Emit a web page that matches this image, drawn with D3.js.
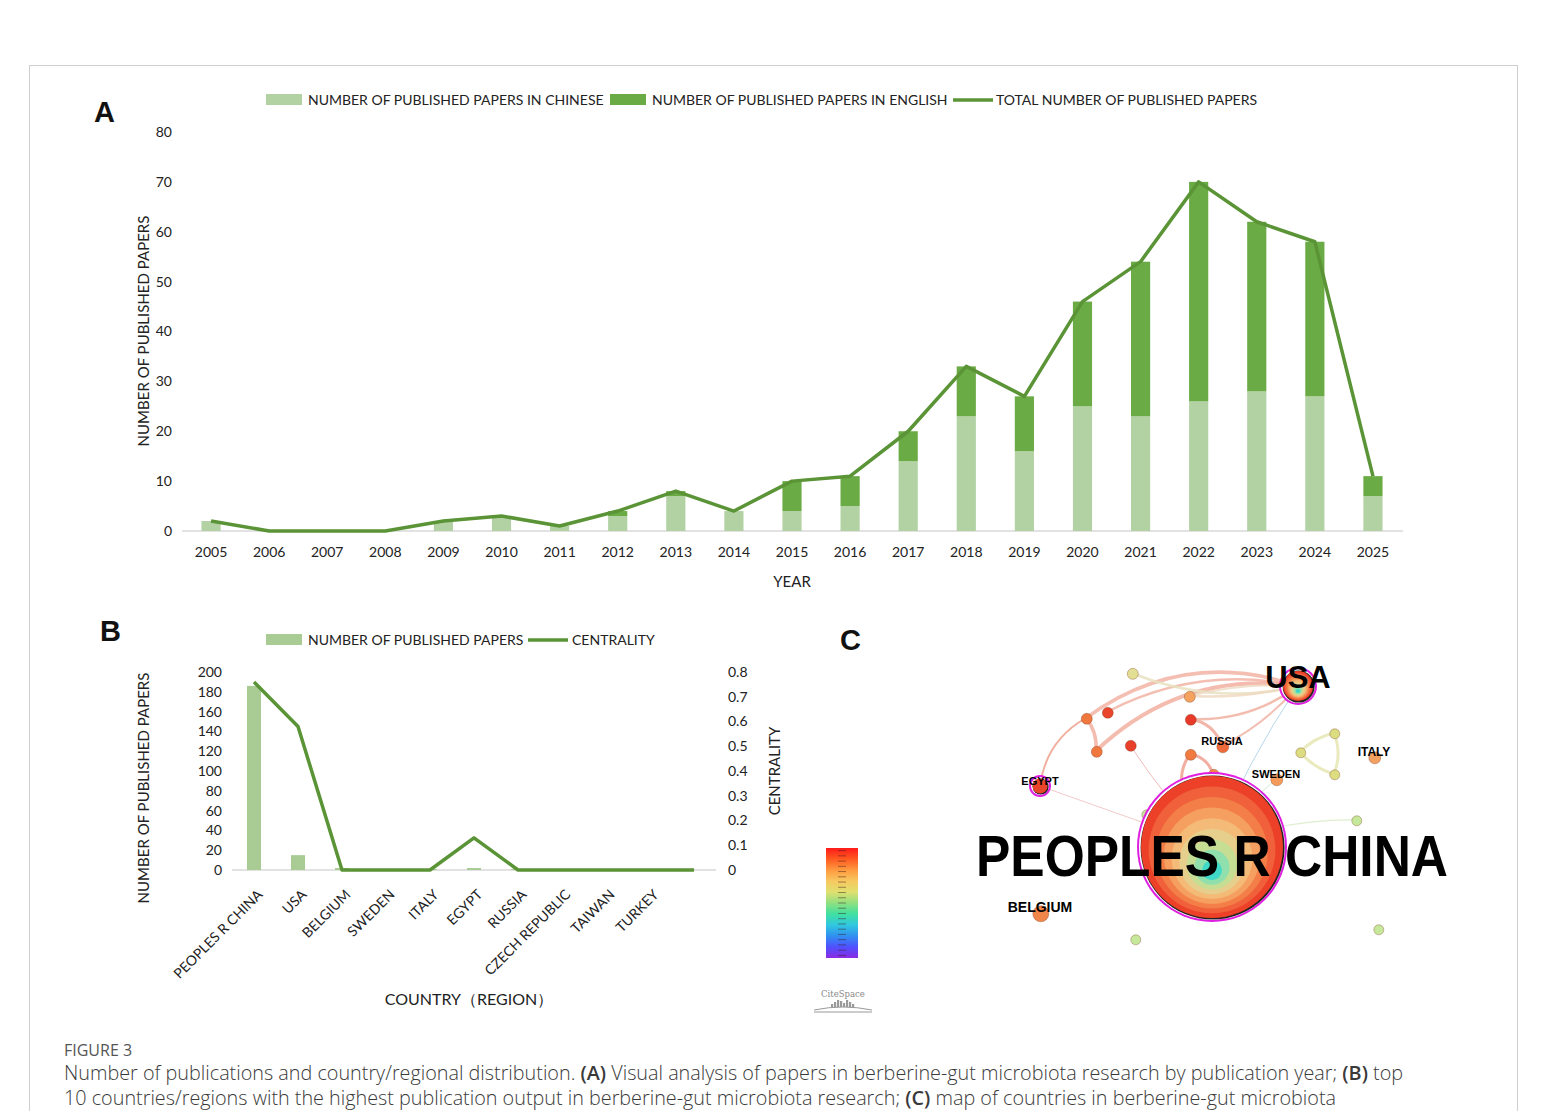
<!DOCTYPE html>
<html>
<head>
<meta charset="utf-8">
<script src="https://cdn.jsdelivr.net/npm/d3@7"></script>
<style>
  body { margin: 0; background: #fff; }
  svg { display: block; }
  .tick text { font-family: Lato, sans-serif; font-size: 14px; fill: #222; }
</style>
</head>
<body>
<svg id="fig" width="1546" height="1111"></svg>
<script>
// ---- panel A data
const years = ["2005","2006","2007","2008","2009","2010","2011","2012","2013","2014","2015",
               "2016","2017","2018","2019","2020","2021","2022","2023","2024","2025"];
const chinesePapers = [2,0,0,0,2,3,1,3,7,4,4,5,14,23,16,25,23,26,28,27,7];
const englishPapers = [0,0,0,0,0,0,0,1,1,0,6,6,6,10,11,21,31,44,34,31,4];
const totalPapers   = [2,0,0,0,2,3,1,4,8,4,10,11,20,33,27,46,54,70,62,58,11];
const yTicksA = [0,10,20,30,40,50,60,70,80];

// ---- panel B data
const countries = ["PEOPLES R CHINA","USA","BELGIUM","SWEDEN","ITALY","EGYPT","RUSSIA",
                   "CZECH REPUBLIC","TAIWAN","TURKEY",""];
const countryPapers = [186,15,2,1,1,2,1,1,1,1,0];
const centrality    = [0.76,0.58,0,0,0,0.13,0,0,0,0,0];
const yTicksB  = [0,20,40,60,80,100,120,140,160,180,200];
const yTicksB2 = [0,0.1,0.2,0.3,0.4,0.5,0.6,0.7,0.8];

// ---- panel C data (layout space 0-500 x 0-290)
const netNodes = [
  {id:"PEOPLES R CHINA", x:252, y:187, r:72, fill:"#ee4a2c", ring:true, label:58},
  {id:"USA",     x:338, y:26,  r:16, fill:"#f08a4a", ring:true, label:31},
  {id:"EGYPT",   x:80,  y:126, r:8,  fill:"#e9452a", ring:true, label:11},
  {id:"BELGIUM", x:80,  y:253, r:8,  fill:"#f0864a", label:14},
  {id:"RUSSIA",  x:262, y:86,  r:6,  fill:"#ee6a3a", label:11},
  {id:"SWEDEN",  x:316, y:119, r:6,  fill:"#f49a5a", label:11},
  {id:"ITALY",   x:414, y:97,  r:6,  fill:"#f4a060", label:12},
  {id:"n1",  x:172, y:13,  r:5.5, fill:"#e2df94"},
  {id:"n2",  x:229, y:36,  r:5.5, fill:"#f4a25e"},
  {id:"n3",  x:147, y:52,  r:5.5, fill:"#e8452c"},
  {id:"n4",  x:126, y:58,  r:5.5, fill:"#f0773e"},
  {id:"n5",  x:230, y:59,  r:5.5, fill:"#e83a2a"},
  {id:"n6",  x:136, y:91,  r:5.5, fill:"#f0783e"},
  {id:"n7",  x:170, y:85,  r:5.5, fill:"#e8402a"},
  {id:"n8",  x:230, y:94,  r:5.5, fill:"#f07a40"},
  {id:"n9",  x:253, y:114, r:5.5, fill:"#f2844a"},
  {id:"n10", x:224, y:134, r:5.5, fill:"#f0783e"},
  {id:"n11", x:186, y:154, r:5,   fill:"#c6e89a"},
  {id:"n12", x:396, y:160, r:5,   fill:"#c6e89a"},
  {id:"n13", x:175, y:279, r:5,   fill:"#c6e89a"},
  {id:"n14", x:418, y:269, r:5,   fill:"#c6e89a"},
  {id:"n15", x:374, y:73,  r:5,   fill:"#dcdc80"},
  {id:"n16", x:340, y:92,  r:5,   fill:"#dcdc80"},
  {id:"n17", x:374, y:114, r:5,   fill:"#dcdc80"}
];
const netLinks = [
  {s:"EGYPT", t:"n4",  w:2,   c:"#eea08c", bend:-0.25},
  {s:"n4",  t:"USA",   w:3.5, c:"#f2b4a4", bend:-0.26},
  {s:"n3",  t:"USA",   w:2.5, c:"#f2b4a4", bend:-0.18},
  {s:"n6",  t:"USA",   w:4,   c:"#f2b0a0", bend:-0.24},
  {s:"n6",  t:"n4",    w:3.5, c:"#f2b0a0", bend:0.2},
  {s:"n1",  t:"USA",   w:2.5, c:"#e8e2c0", bend:0.16},
  {s:"n2",  t:"USA",   w:2.5, c:"#f0d8c0", bend:0.07},
  {s:"n2",  t:"USA",   w:2,   c:"#ecdcc4", bend:-0.08},
  {s:"n5",  t:"RUSSIA",w:3,   c:"#f0a898", bend:-0.3},
  {s:"n5",  t:"USA",   w:2.5, c:"#f0b0a0", bend:0.18},
  {s:"RUSSIA", t:"USA", w:2,  c:"#f0b4a4", bend:0.1},
  {s:"n8",  t:"n9",    w:3,   c:"#f0a090", bend:-0.3},
  {s:"n9",  t:"n10",   w:3,   c:"#f0a090", bend:-0.3},
  {s:"n8",  t:"n10",   w:3,   c:"#f0a090", bend:0.25},
  {s:"n10", t:"PEOPLES R CHINA", w:1, c:"#f0b8a8", bend:0},
  {s:"n9",  t:"PEOPLES R CHINA", w:1, c:"#d8e8c8", bend:0},
  {s:"USA", t:"PEOPLES R CHINA", w:1, c:"#a8d0e8", bend:0.05},
  {s:"SWEDEN", t:"PEOPLES R CHINA", w:1, c:"#c8e8c8", bend:0.05},
  {s:"n12", t:"PEOPLES R CHINA", w:1.2, c:"#d8ecc8", bend:0.1},
  {s:"n11", t:"PEOPLES R CHINA", w:1, c:"#d8ecc8", bend:0},
  {s:"EGYPT", t:"PEOPLES R CHINA", w:1, c:"#f0c0c0", bend:0},
  {s:"n7",  t:"PEOPLES R CHINA", w:1, c:"#f0b0b0", bend:0.05},
  {s:"n15", t:"n16",   w:3,   c:"#e6e6b4", bend:0.15},
  {s:"n16", t:"n17",   w:3,   c:"#e6e6b4", bend:0.15},
  {s:"n15", t:"n17",   w:3,   c:"#e6e6b4", bend:-0.2}
];
const ringColors = ["#ec4128","#f0603a","#f37e48","#f5a060","#f4ba78","#e6cf8c","#c6dd94","#8fe0ac","#40d8c8"];
const timeColors = ["#ff1a1a","#ff5a20","#ff9a40","#f7c860","#e0e070","#90e080","#40e0a0","#30c8e0","#3090f0","#5050ff","#8a2be2"];

const FONT = "Lato, sans-serif";
const svg = d3.select("#fig");

// frame
svg.append("rect")
  .attr("x", 29.5).attr("y", 65.5)
  .attr("width", 1488).attr("height", 1100)
  .attr("fill", "none").attr("stroke", "#cfcfcf")

function panelLetter(t, x, y) {
  svg.append("text").attr("x", x).attr("y", y).text(t)
    .style("font-family", "'Liberation Sans', Arial, sans-serif")
    .style("font-size", "29px").style("font-weight", "bold").style("fill", "#111")
}
panelLetter("A", 94, 122)
panelLetter("B", 100, 641)
panelLetter("C", 840, 650)

// ================= PANEL A =================
let lightGreen = "#b3d2a4", darkGreen = "#6aab45", lineGreen = "#5a9436";

let xA = d3.scaleBand()
  .domain(years)
  .range([182, 1402])
  .paddingInner(0.67)
  .paddingOuter(0.335);

let yA = d3.scaleLinear().domain([0, 80]).range([531, 132]);

let gA = svg.append("g")

gA.append("line")
  .attr("x1", 182).attr("x2", 1403)
  .attr("y1", yA(0)).attr("y2", yA(0))
  .style("stroke", "#d9d9d9").style("stroke-width", 1.5)

gA.selectAll(".barCn")
  .data(years)
  .join("rect")
  .attr("x", d => xA(d))
  .attr("width", xA.bandwidth())
  .attr("y", (d, i) => yA(chinesePapers[i]))
  .attr("height", (d, i) => yA(0) - yA(chinesePapers[i]))
  .style("fill", lightGreen)

gA.selectAll(".barEn")
  .data(years)
  .join("rect")
  .attr("x", d => xA(d))
  .attr("width", xA.bandwidth())
  .attr("y", (d, i) => yA(chinesePapers[i] + englishPapers[i]))
  .attr("height", (d, i) => yA(chinesePapers[i]) - yA(chinesePapers[i] + englishPapers[i]))
  .style("fill", darkGreen)

let lineA = d3.line()
  .x((d, i) => xA(years[i]) + xA.bandwidth() / 2)
  .y(d => yA(d))

gA.append("path")
  .datum(totalPapers)
  .attr("d", lineA)
  .style("fill", "none")
  .style("stroke", lineGreen)
  .style("stroke-width", 3.5)
  .style("stroke-linejoin", "round")

gA.append("g")
  .attr("transform", "translate(180,0)")
  .call(d3.axisLeft(yA).tickValues(yTicksA).tickSize(0).tickPadding(8))
  .call(g => g.select(".domain").remove())

gA.append("g")
  .attr("transform", `translate(0,${yA(0)})`)
  .call(d3.axisBottom(xA).tickSize(0).tickPadding(16))
  .call(g => g.select(".domain").remove())

svg.append("text")
  .attr("transform", "translate(149,331) rotate(-90)")
  .attr("text-anchor", "middle")
  .style("font-family", FONT).style("font-size", "15px").style("fill", "#222")
  .text("NUMBER OF PUBLISHED PAPERS")

svg.append("text")
  .attr("x", 792).attr("y", 587)
  .attr("text-anchor", "middle")
  .style("font-family", FONT).style("font-size", "15px").style("fill", "#222")
  .text("YEAR")

// legend A
let legA = svg.append("g").style("font-family", FONT).style("font-size", "14px").style("fill", "#222")
legA.append("rect").attr("x", 266).attr("y", 94).attr("width", 36).attr("height", 11).style("fill", lightGreen)
legA.append("text").attr("x", 308).attr("y", 105).text("NUMBER OF PUBLISHED PAPERS IN CHINESE")
legA.append("rect").attr("x", 610).attr("y", 94).attr("width", 36).attr("height", 11).style("fill", darkGreen)
legA.append("text").attr("x", 652).attr("y", 105).text("NUMBER OF PUBLISHED PAPERS IN ENGLISH")
legA.append("line").attr("x1", 953).attr("x2", 993).attr("y1", 100).attr("y2", 100)
  .style("stroke", lineGreen).style("stroke-width", 3.5)
legA.append("text").attr("x", 996).attr("y", 105).text("TOTAL NUMBER OF PUBLISHED PAPERS")

// ================= PANEL B =================
let xB = d3.scaleBand().domain(countries).range([232, 716]);
let yB = d3.scaleLinear().domain([0, 200]).range([870, 672]);
let yB2 = d3.scaleLinear().domain([0, 0.8]).range([870, 672]);
let barW = 14;

let gB = svg.append("g")

gB.append("line")
  .attr("x1", 232).attr("x2", 716)
  .attr("y1", yB(0)).attr("y2", yB(0))
  .style("stroke", "#d9d9d9").style("stroke-width", 1.5)

gB.selectAll(".barB")
  .data(countries)
  .join("rect")
  .attr("x", d => xB(d) + xB.bandwidth() / 2 - barW / 2)
  .attr("width", barW)
  .attr("y", (d, i) => yB(countryPapers[i]))
  .attr("height", (d, i) => yB(0) - yB(countryPapers[i]))
  .style("fill", "#a9cc95")

gB.append("path")
  .datum(centrality)
  .attr("d", d3.line()
    .x((d, i) => xB(countries[i]) + xB.bandwidth() / 2)
    .y(d => yB2(d)))
  .style("fill", "none")
  .style("stroke", lineGreen)
  .style("stroke-width", 3.5)
  .style("stroke-linejoin", "round")

gB.append("g")
  .attr("transform", "translate(228,0)")
  .call(d3.axisLeft(yB).tickValues(yTicksB).tickSize(0).tickPadding(6))
  .call(g => g.select(".domain").remove())

gB.append("g")
  .attr("transform", "translate(722,0)")
  .call(d3.axisRight(yB2).tickValues(yTicksB2).tickSize(0).tickPadding(6)
    .tickFormat(d => d === 0 ? "0" : d3.format(".1f")(d)))
  .call(g => g.select(".domain").remove())

gB.selectAll(".xlab")
  .data(countries)
  .join("text")
  .attr("transform", d => `translate(${xB(d) + xB.bandwidth() / 2 + 6},${892}) rotate(-45)`)
  .attr("text-anchor", "end")
  .attr("dy", "0.35em")
  .style("font-family", FONT).style("font-size", "14px").style("fill", "#222")
  .text(d => d)

svg.append("text")
  .attr("transform", "translate(149,788) rotate(-90)")
  .attr("text-anchor", "middle")
  .style("font-family", FONT).style("font-size", "15px").style("fill", "#222")
  .text("NUMBER OF PUBLISHED PAPERS")

svg.append("text")
  .attr("transform", "translate(780,771) rotate(-90)")
  .attr("text-anchor", "middle")
  .style("font-family", FONT).style("font-size", "15px").style("fill", "#222")
  .text("CENTRALITY")

svg.append("text")
  .attr("x", 469).attr("y", 1005)
  .attr("text-anchor", "middle")
  .style("font-family", FONT).style("font-size", "16px").style("fill", "#222")
  .text("COUNTRY（REGION）")

let legB = svg.append("g").style("font-family", FONT).style("font-size", "14px").style("fill", "#222")
legB.append("rect").attr("x", 266).attr("y", 634).attr("width", 36).attr("height", 11).style("fill", "#a9cc95")
legB.append("text").attr("x", 308).attr("y", 645).text("NUMBER OF PUBLISHED PAPERS")
legB.append("line").attr("x1", 528).attr("x2", 568).attr("y1", 640).attr("y2", 640)
  .style("stroke", lineGreen).style("stroke-width", 3.5)
legB.append("text").attr("x", 572).attr("y", 645).text("CENTRALITY")

// ================= PANEL C =================
let xC = d3.scaleLinear().domain([0, 500]).range([960, 1460]);
let yC = d3.scaleLinear().domain([0, 290]).range([660, 950]);
let nodeById = new Map(netNodes.map(d => [d.id, d]));

let gC = svg.append("g")

function linkPath(l) {
  let a = nodeById.get(l.s), b = nodeById.get(l.t);
  let x1 = xC(a.x), y1 = yC(a.y), x2 = xC(b.x), y2 = yC(b.y);
  let mx = (x1 + x2) / 2, my = (y1 + y2) / 2;
  let dx = x2 - x1, dy = y2 - y1;
  let cx = mx - dy * l.bend, cy = my + dx * l.bend;
  return `M${x1},${y1} Q${cx},${cy} ${x2},${y2}`;
}

gC.selectAll(".link")
  .data(netLinks)
  .join("path")
  .attr("d", linkPath)
  .style("fill", "none")
  .style("stroke", d => d.c)
  .style("stroke-width", d => d.w)
  .style("opacity", 0.85)

let ringNodes = netNodes.filter(d => d.ring)
let plainNodes = netNodes.filter(d => !d.ring)

// small nodes
gC.selectAll(".node")
  .data(plainNodes)
  .join("circle")
  .attr("cx", d => xC(d.x) + 0.8)
  .attr("cy", d => yC(d.y) + 0.8)
  .attr("r", d => d.r)
  .style("fill", d => d.fill)
  .style("stroke", "rgba(120,60,30,0.35)")
  .style("stroke-width", 1)

// ring nodes (magenta centrality ring + tree rings)
ringNodes.forEach(n => {
  let cx = xC(n.x), cy = yC(n.y);
  gC.append("circle").attr("cx", cx).attr("cy", cy).attr("r", n.r + 3)
    .style("fill", "#e020e0")
  gC.append("circle").attr("cx", cx).attr("cy", cy).attr("r", n.r + 1)
    .style("fill", "#fff")
  gC.append("circle").attr("cx", cx + 0.6).attr("cy", cy + 0.6).attr("r", n.r)
    .style("fill", "#222")
  if (n.r < 10) {
    gC.append("circle").attr("cx", cx).attr("cy", cy).attr("r", n.r - 0.5)
      .style("fill", n.fill)
    return
  }
  let k = ringColors.length;
  ringColors.forEach((c, i) => {
    let r = (n.r - 1) * (1 - i / (k + 0.3));
    let off = (n.r - 1 - r) * 0.38;
    gC.append("circle")
      .attr("cx", cx).attr("cy", cy + off).attr("r", r)
      .style("fill", c)
  })
})

// labels
gC.selectAll(".nlabel")
  .data(netNodes.filter(d => d.label))
  .join("text")
  .attr("x", d => xC(d.x))
  .attr("y", d => d.r > 50 ? yC(d.y) + 29 : yC(d.y) + (d.label > 20 ? 2 : -1))
  .attr("text-anchor", "middle")
  .style("font-family", "'Liberation Sans', Arial, sans-serif")
  .style("font-weight", "bold")
  .style("font-size", d => d.label + "px")
  .style("fill", "#000")
  .attr("textLength", d => d.r > 50 ? 472 : null)
  .attr("lengthAdjust", "spacingAndGlyphs")
  .text(d => d.id)

// colour bar for time slices
let defs = svg.append("defs")
let grad = defs.append("linearGradient").attr("id", "timegrad")
  .attr("x1", 0).attr("x2", 0).attr("y1", 0).attr("y2", 1)
grad.selectAll("stop")
  .data(timeColors)
  .join("stop")
  .attr("offset", (d, i) => i / (timeColors.length - 1))
  .attr("stop-color", d => d)

let yBar = d3.scaleLinear().domain([0, 1]).range([848, 958]);
svg.append("rect")
  .attr("x", 826).attr("y", yBar(0))
  .attr("width", 32).attr("height", yBar(1) - yBar(0))
  .style("fill", "url(#timegrad)")
svg.selectAll(".barTick")
  .data(d3.range(21))
  .join("line")
  .attr("x1", 838).attr("x2", 846)
  .attr("y1", d => yBar((d + 0.5) / 21)).attr("y2", d => yBar((d + 0.5) / 21))
  .style("stroke", "rgba(60,20,20,0.45)")
  .style("stroke-width", 1)

// CiteSpace logo
let logo = svg.append("g")
logo.append("text").attr("x", 843).attr("y", 997).attr("text-anchor", "middle")
  .style("font-family", "'DejaVu Serif', serif").style("font-size", "8.5px").style("fill", "#888")
  .text("CiteSpace")
logo.selectAll(".bld")
  .data([3, 5, 7, 6, 4, 7, 5, 3])
  .join("rect")
  .attr("x", (d, i) => 831 + i * 3)
  .attr("y", d => 1007 - d)
  .attr("width", 2.2)
  .attr("height", d => d)
  .style("fill", "#9a9a9a")
logo.append("path").attr("d", "M814,1010 Q843,1004 872,1010 M814,1012 L872,1012")
  .style("fill", "none").style("stroke", "#999").style("stroke-width", 1)

// ================= CAPTION =================
let cap = svg.append("g").style("font-family", "'Open Sans', sans-serif")
cap.append("text").attr("x", 64).attr("y", 1056)
  .style("font-size", "16px").style("fill", "#555").text("FIGURE 3")

let capLines = [
  [["Number of publications and country/regional distribution. ", 0], ["(A)", 1],
   [" Visual analysis of papers in berberine-gut microbiota research by publication year; ", 0], ["(B)", 1], [" top", 0]],
  [["10 countries/regions with the highest publication output in berberine-gut microbiota research; ", 0], ["(C)", 1],
   [" map of countries in berberine-gut microbiota", 0]]
];
capLines.forEach((parts, li) => {
  let t = cap.append("text").attr("x", 64).attr("y", 1080 + li * 25)
    .style("font-size", "19.8px").style("fill", "#3a3a3a").style("font-weight", 300)
  parts.forEach(p => {
    t.append("tspan").text(p[0]).style("font-weight", p[1] ? 600 : 300)
  })
})
</script>
</body>
</html>
